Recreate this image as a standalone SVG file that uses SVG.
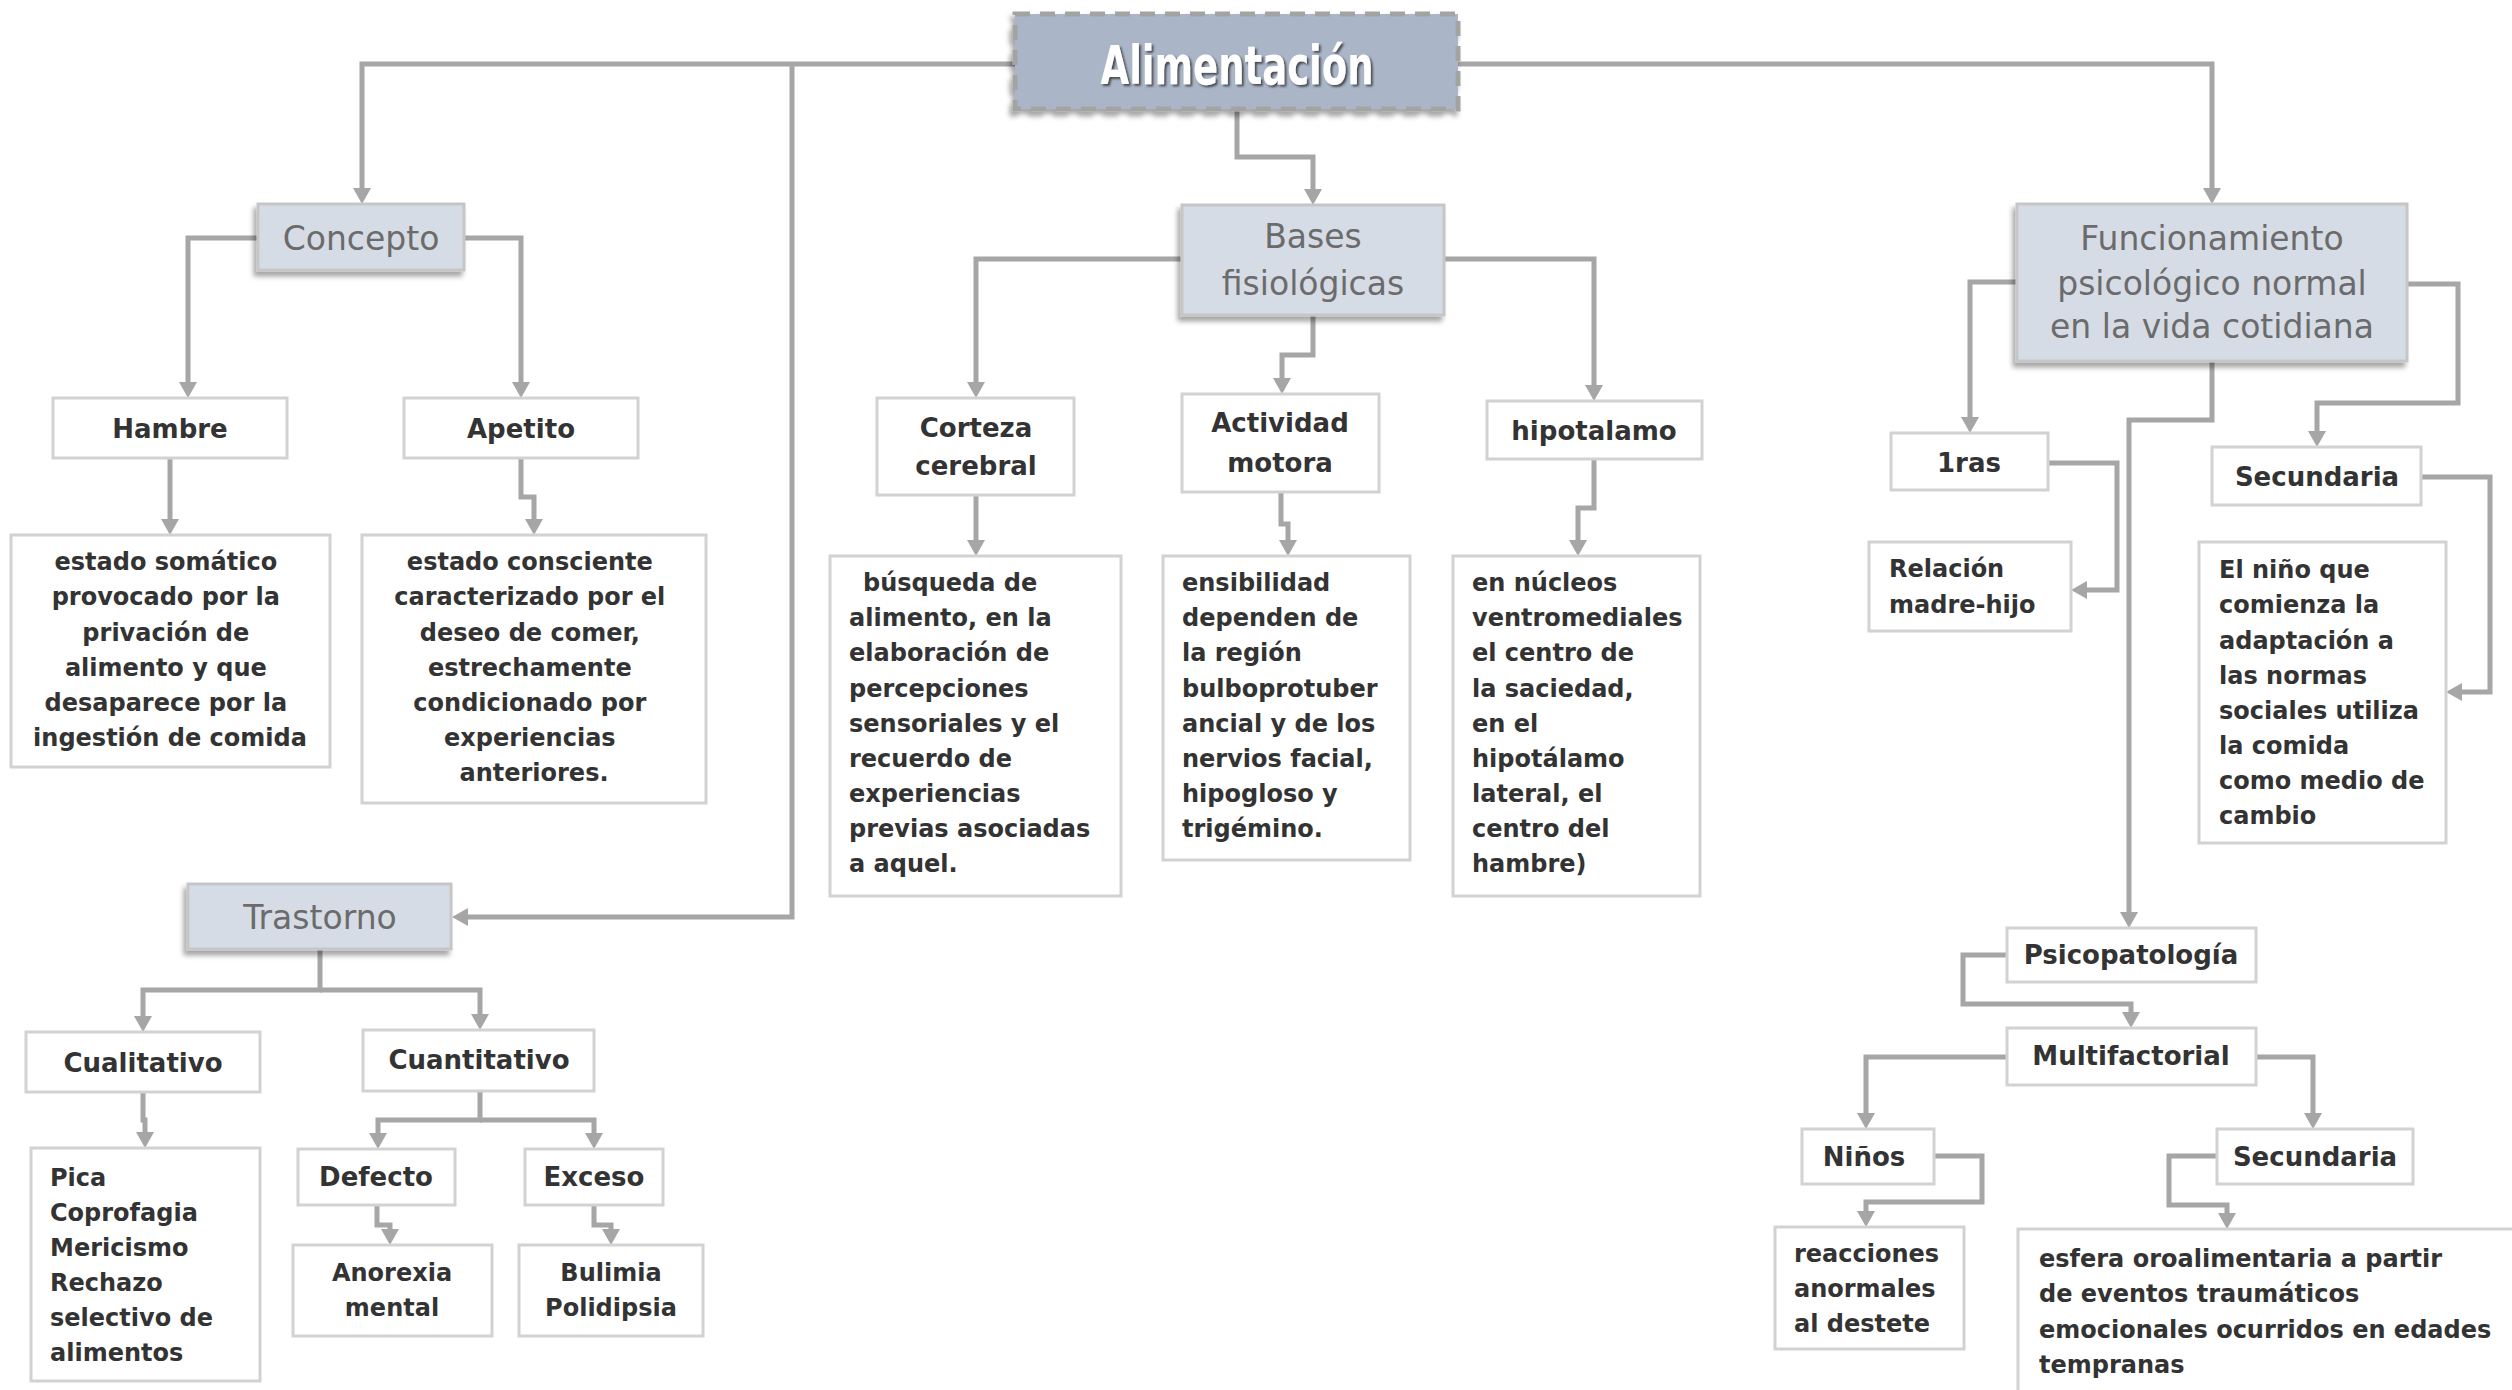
<svg xmlns="http://www.w3.org/2000/svg" width="2512" height="1390" viewBox="0 0 2512 1390">
<defs>
<style>
.conn{fill:none;stroke:#a6a6a6;stroke-width:5;marker-end:url(#arr)}
.hdr{fill:#d6dce5;stroke:#c6c6c6;stroke-width:3;filter:url(#sh)}
.box{fill:#fff;stroke:#d2d2d2;stroke-width:3}
.ht{font-family:"DejaVu Sans",sans-serif;font-size:33px;fill:#6b6b6b;text-anchor:middle}
.lb{font-family:"DejaVu Sans",sans-serif;font-size:26px;font-weight:bold;fill:#333;text-anchor:middle}
.bt{font-family:"DejaVu Sans",sans-serif;font-size:24px;font-weight:bold;fill:#333}
.c{text-anchor:middle}
</style>
<marker id="arr" viewBox="0 0 16 18" refX="8" refY="9" markerWidth="16" markerHeight="18" markerUnits="userSpaceOnUse" orient="auto">
<path d="M0,0 L16,9 L0,18 z" fill="#a6a6a6"/>
</marker>
<filter id="sh" x="-20%" y="-20%" width="140%" height="150%">
<feDropShadow dx="-3" dy="5" stdDeviation="2.5" flood-color="#000" flood-opacity="0.35"/>
</filter>
<filter id="tsh" x="-10%" y="-20%" width="120%" height="150%">
<feDropShadow dx="2" dy="2" stdDeviation="1" flood-color="#333" flood-opacity="0.8"/>
</filter>
</defs>

<g id="connectors">
<path class="conn" d="M1015,64 H362 V196"/>
<path class="conn" d="M792,64 V917 H460"/>
<path class="conn" d="M1237,109 V157 H1313 V197"/>
<path class="conn" d="M1458,64 H2212 V196"/>
<path class="conn" d="M258,238 H188 V390"/>
<path class="conn" d="M464,238 H521 V390"/>
<path class="conn" d="M170,458 V527"/>
<path class="conn" d="M521,458 V497 H534 V527"/>
<path class="conn" d="M1182,259 H976 V390"/>
<path class="conn" d="M1444,259 H1594 V393"/>
<path class="conn" d="M1313,315 V355 H1282 V386"/>
<path class="conn" d="M976,495 V548"/>
<path class="conn" d="M1281,492 V524 H1288 V548"/>
<path class="conn" d="M1594,459 V508 H1578 V548"/>
<path class="conn" d="M320,949 V990 H143 V1024"/>
<path class="conn" d="M320,990 H480 V1022"/>
<path class="conn" d="M143,1092 V1120 H145 V1140"/>
<path class="conn" d="M480,1091 V1120 H378 V1141"/>
<path class="conn" d="M480,1120 H594 V1141"/>
<path class="conn" d="M377,1205 V1225 H390 V1237"/>
<path class="conn" d="M594,1205 V1225 H611 V1237"/>
<path class="conn" d="M2017,282 H1970 V425"/>
<path class="conn" d="M2048,463 H2117 V590 H2079"/>
<path class="conn" d="M2407,284 H2458 V403 H2317 V439"/>
<path class="conn" d="M2421,477 H2490 V692 H2454"/>
<path class="conn" d="M2212,361 V420 H2129 V920"/>
<path class="conn" d="M2007,955 H1963 V1004 H2131 V1020"/>
<path class="conn" d="M2007,1057 H1866 V1121"/>
<path class="conn" d="M2256,1057 H2313 V1121"/>
<path class="conn" d="M1934,1156 H1982 V1202 H1866 V1219"/>
<path class="conn" d="M2217,1156 H2169 V1205 H2227 V1221"/>
</g>

<g id="n-alimentacion">
<rect x="1015" y="14" width="443" height="95" fill="#aab6c8" stroke="#a3a3a3" stroke-width="5" stroke-dasharray="15 10" filter="url(#sh)"/>
<text x="1237" y="84" font-family="DejaVu Sans, sans-serif" font-size="54" font-weight="bold" fill="#fff" text-anchor="middle" textLength="273" lengthAdjust="spacingAndGlyphs" filter="url(#tsh)">Alimentación</text>
</g>

<g id="n-concepto">
<rect class="hdr" x="258" y="204" width="206" height="66"/>
<text class="ht" x="361" y="250">Concepto</text>
</g>
<g id="n-bases">
<rect class="hdr" x="1182" y="205" width="262" height="110"/>
<text class="ht" x="1313" y="248">Bases</text>
<text class="ht" x="1313" y="295">fisiológicas</text>
</g>
<g id="n-funcionamiento">
<rect class="hdr" x="2017" y="204" width="390" height="157"/>
<text class="ht" x="2212" y="250">Funcionamiento</text>
<text class="ht" x="2212" y="295">psicológico normal</text>
<text class="ht" x="2212" y="338">en la vida cotidiana</text>
</g>
<g id="n-trastorno">
<rect class="hdr" x="188" y="884" width="263" height="65"/>
<text class="ht" x="320" y="929">Trastorno</text>
</g>

<g id="n-hambre">
<rect class="box" x="53" y="398" width="234" height="60"/>
<text class="lb" x="170" y="438">Hambre</text>
</g>
<g id="n-apetito">
<rect class="box" x="404" y="398" width="234" height="60"/>
<text class="lb" x="521" y="438">Apetito</text>
</g>
<g id="n-hambre-desc">
<rect class="box" x="11" y="535" width="319" height="232"/>
<text class="bt c">
<tspan x="170" y="570">estado somático</tspan>
<tspan x="170" y="605">provocado por la</tspan>
<tspan x="170" y="641">privación de</tspan>
<tspan x="170" y="676">alimento y que</tspan>
<tspan x="170" y="711">desaparece por la</tspan>
<tspan x="170" y="746">ingestión de comida</tspan>
</text>
</g>
<g id="n-apetito-desc">
<rect class="box" x="362" y="535" width="344" height="268"/>
<text class="bt c">
<tspan x="534" y="570">estado consciente</tspan>
<tspan x="534" y="605">caracterizado por el</tspan>
<tspan x="534" y="641">deseo de comer,</tspan>
<tspan x="534" y="676">estrechamente</tspan>
<tspan x="534" y="711">condicionado por</tspan>
<tspan x="534" y="746">experiencias</tspan>
<tspan x="534" y="781">anteriores.</tspan>
</text>
</g>

<g id="n-corteza">
<rect class="box" x="877" y="398" width="197" height="97"/>
<text class="lb" x="976" y="437">Corteza</text>
<text class="lb" x="976" y="475">cerebral</text>
</g>
<g id="n-actividad">
<rect class="box" x="1182" y="394" width="197" height="98"/>
<text class="lb" x="1280" y="432">Actividad</text>
<text class="lb" x="1280" y="472">motora</text>
</g>
<g id="n-hipotalamo">
<rect class="box" x="1487" y="401" width="215" height="58"/>
<text class="lb" x="1594" y="440">hipotalamo</text>
</g>
<g id="n-corteza-desc">
<rect class="box" x="830" y="556" width="291" height="340"/>
<text class="bt">
<tspan x="863" y="591">búsqueda de</tspan>
<tspan x="849" y="626">alimento, en la</tspan>
<tspan x="849" y="661">elaboración de</tspan>
<tspan x="849" y="697">percepciones</tspan>
<tspan x="849" y="732">sensoriales y el</tspan>
<tspan x="849" y="767">recuerdo de</tspan>
<tspan x="849" y="802">experiencias</tspan>
<tspan x="849" y="837">previas asociadas</tspan>
<tspan x="849" y="872">a aquel.</tspan>
</text>
</g>
<g id="n-actividad-desc">
<rect class="box" x="1163" y="556" width="247" height="304"/>
<text class="bt">
<tspan x="1182" y="591">ensibilidad</tspan>
<tspan x="1182" y="626">dependen de</tspan>
<tspan x="1182" y="661">la región</tspan>
<tspan x="1182" y="697">bulboprotuber</tspan>
<tspan x="1182" y="732">ancial y de los</tspan>
<tspan x="1182" y="767">nervios facial,</tspan>
<tspan x="1182" y="802">hipogloso y</tspan>
<tspan x="1182" y="837">trigémino.</tspan>
</text>
</g>
<g id="n-hipotalamo-desc">
<rect class="box" x="1453" y="556" width="247" height="340"/>
<text class="bt">
<tspan x="1472" y="591">en núcleos</tspan>
<tspan x="1472" y="626">ventromediales</tspan>
<tspan x="1472" y="661">el centro de</tspan>
<tspan x="1472" y="697">la saciedad,</tspan>
<tspan x="1472" y="732">en el</tspan>
<tspan x="1472" y="767">hipotálamo</tspan>
<tspan x="1472" y="802">lateral, el</tspan>
<tspan x="1472" y="837">centro del</tspan>
<tspan x="1472" y="872">hambre)</tspan>
</text>
</g>

<g id="n-cualitativo">
<rect class="box" x="26" y="1032" width="234" height="60"/>
<text class="lb" x="143" y="1072">Cualitativo</text>
</g>
<g id="n-cuantitativo">
<rect class="box" x="363" y="1030" width="231" height="61"/>
<text class="lb" x="479" y="1069">Cuantitativo</text>
</g>
<g id="n-pica">
<rect class="box" x="31" y="1148" width="229" height="233"/>
<text class="bt">
<tspan x="50" y="1186">Pica</tspan>
<tspan x="50" y="1221">Coprofagia</tspan>
<tspan x="50" y="1256">Mericismo</tspan>
<tspan x="50" y="1291">Rechazo</tspan>
<tspan x="50" y="1326">selectivo de</tspan>
<tspan x="50" y="1361">alimentos</tspan>
</text>
</g>
<g id="n-defecto">
<rect class="box" x="298" y="1149" width="157" height="56"/>
<text class="lb" x="376" y="1186">Defecto</text>
</g>
<g id="n-exceso">
<rect class="box" x="525" y="1149" width="138" height="56"/>
<text class="lb" x="594" y="1186">Exceso</text>
</g>
<g id="n-anorexia">
<rect class="box" x="293" y="1245" width="199" height="91"/>
<text class="bt c"><tspan x="392" y="1281">Anorexia</tspan><tspan x="392" y="1316">mental</tspan></text>
</g>
<g id="n-bulimia">
<rect class="box" x="519" y="1245" width="184" height="91"/>
<text class="bt c"><tspan x="611" y="1281">Bulimia</tspan><tspan x="611" y="1316">Polidipsia</tspan></text>
</g>

<g id="n-1ras">
<rect class="box" x="1891" y="433" width="157" height="57"/>
<text class="lb" x="1969" y="472">1ras</text>
</g>
<g id="n-relacion">
<rect class="box" x="1869" y="542" width="202" height="89"/>
<text class="bt"><tspan x="1889" y="577">Relación</tspan><tspan x="1889" y="613">madre-hijo</tspan></text>
</g>
<g id="n-secundaria1">
<rect class="box" x="2212" y="447" width="209" height="58"/>
<text class="lb" x="2317" y="486">Secundaria</text>
</g>
<g id="n-nino-desc">
<rect class="box" x="2199" y="542" width="247" height="301"/>
<text class="bt">
<tspan x="2219" y="578">El niño que</tspan>
<tspan x="2219" y="613">comienza la</tspan>
<tspan x="2219" y="649">adaptación a</tspan>
<tspan x="2219" y="684">las normas</tspan>
<tspan x="2219" y="719">sociales utiliza</tspan>
<tspan x="2219" y="754">la comida</tspan>
<tspan x="2219" y="789">como medio de</tspan>
<tspan x="2219" y="824">cambio</tspan>
</text>
</g>
<g id="n-psicopatologia">
<rect class="box" x="2007" y="928" width="249" height="54"/>
<text class="lb" x="2131" y="964">Psicopatología</text>
</g>
<g id="n-multifactorial">
<rect class="box" x="2007" y="1028" width="249" height="57"/>
<text class="lb" x="2131" y="1065">Multifactorial</text>
</g>
<g id="n-ninos">
<rect class="box" x="1802" y="1129" width="132" height="55"/>
<text class="lb" x="1864" y="1166">Niños</text>
</g>
<g id="n-secundaria2">
<rect class="box" x="2217" y="1129" width="196" height="55"/>
<text class="lb" x="2315" y="1166">Secundaria</text>
</g>
<g id="n-reacciones">
<rect class="box" x="1775" y="1227" width="189" height="122"/>
<text class="bt"><tspan x="1794" y="1262">reacciones</tspan><tspan x="1794" y="1297">anormales</tspan><tspan x="1794" y="1332">al destete</tspan></text>
</g>
<g id="n-esfera">
<rect class="box" x="2018" y="1229" width="520" height="200"/>
<text class="bt">
<tspan x="2039" y="1267">esfera oroalimentaria a partir</tspan>
<tspan x="2039" y="1302">de eventos traumáticos</tspan>
<tspan x="2039" y="1338">emocionales ocurridos en edades</tspan>
<tspan x="2039" y="1373">tempranas</tspan>
</text>
</g>
</svg>
